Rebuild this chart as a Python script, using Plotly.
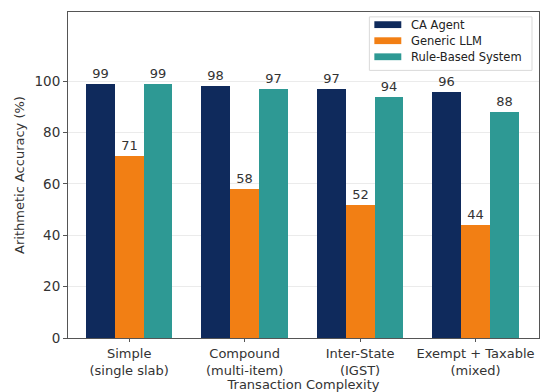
import plotly.graph_objects as go

categories = ["Simple<br>(single slab)", "Compound<br>(multi-item)", "Inter-State<br>(IGST)", "Exempt + Taxable<br>(mixed)"]
series_names = ["CA Agent", "Generic LLM", "Rule-Based System"]
ca_agent = [99, 98, 97, 96]
generic_llm = [71, 58, 52, 44]
rule_based = [99, 97, 94, 88]
colors = ["#0f2a5c", "#f27f14", "#2e9994"]

x_pos = list(range(len(categories)))
width = 0.25
offsets = [-width, 0, width]

W, H = 545, 392
ML, MR, MT, MB = 68, 5, 12, 45
PW, PH = W - ML - MR, H - MT - MB

def px_x(px):
    return (px - ML) / PW

def px_y(py):
    return (H - MB - py) / PH

fig = go.Figure()
for name, vals, col, off in zip(series_names, [ca_agent, generic_llm, rule_based], colors, offsets):
    fig.add_trace(go.Bar(
        x=[p + off for p in x_pos], y=vals, name=name, width=width,
        marker=dict(color=col, line=dict(width=0)),
        text=[str(v) for v in vals], textposition="outside",
        textfont=dict(family="DejaVu Sans", size=13, color="#333333"),
        cliponaxis=False, showlegend=False,
    ))

# legend box drawn in paper coordinates
shapes = [dict(type="rect", xref="paper", yref="paper",
               x0=px_x(370), x1=px_x(533), y0=px_y(72), y1=px_y(17),
               line=dict(color="#d9d9d9", width=1), fillcolor="rgba(255,255,255,0.85)", layer="above")]
annotations = []
for i, (name, col) in enumerate(zip(series_names, colors)):
    cy = 25 + 16.5 * i
    shapes.append(dict(type="rect", xref="paper", yref="paper",
                       x0=px_x(375), x1=px_x(402), y0=px_y(cy + 3.5), y1=px_y(cy - 3.5),
                       line=dict(width=0), fillcolor=col, layer="above"))
    annotations.append(dict(xref="paper", yref="paper", x=px_x(410), y=px_y(cy),
                            xanchor="left", yanchor="middle", showarrow=False, text=name,
                            font=dict(family="DejaVu Sans", size=11.5, color="#222222")))

fig.update_layout(
    width=W, height=H,
    margin=dict(l=ML, r=MR, t=MT, b=MB),
    paper_bgcolor="white", plot_bgcolor="white",
    barmode="overlay", bargap=0,
    font=dict(family="DejaVu Sans", size=13, color="#333333"),
    showlegend=False,
    shapes=shapes, annotations=annotations,
    xaxis=dict(
        range=[-0.53, 3.55], tickmode="array", tickvals=x_pos, ticktext=categories,
        showline=True, linecolor="#555555", linewidth=1, mirror=True,
        ticks="outside", ticklen=3, tickcolor="#555555", showgrid=False, zeroline=False,
        tickfont=dict(size=13, color="#333333"),
        title=dict(text="Transaction Complexity", font=dict(size=13, color="#333333"), standoff=0),
    ),
    yaxis=dict(
        range=[0, 127], tickvals=[0, 20, 40, 60, 80, 100],
        showline=True, linecolor="#555555", linewidth=1, mirror=True,
        ticks="outside", ticklen=4, tickcolor="#555555",
        showgrid=True, gridcolor="rgba(0,0,0,0.08)", zeroline=False,
        tickfont=dict(size=13.5, color="#333333"),
        title=dict(text="Arithmetic Accuracy (%)", font=dict(size=13, color="#333333"), standoff=6),
    ),
)

fig.write_html("out.html")
